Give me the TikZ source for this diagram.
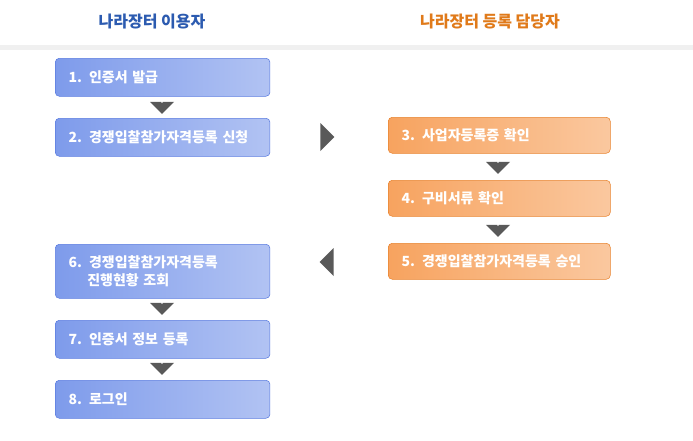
\documentclass[tikz,border=0pt]{standalone}
\usepackage{fontspec}
\setmainfont{Noto Sans CJK KR}
\usetikzlibrary{shapes.arrows}
\definecolor{userblue}{HTML}{7E9BEB}
\definecolor{userline}{HTML}{5A7BE0}
\definecolor{staforange}{HTML}{F7A35F}
\definecolor{stafline}{HTML}{E8832E}
\definecolor{usertitle}{HTML}{2C5BB0}
\definecolor{staftitle}{HTML}{E07A1A}
\tikzstyle{ublock} = [rectangle, draw=userline, left color=userblue, right color=userblue!60, 
    rounded corners=3pt, text width=141pt, minimum height=38*0.75pt, text=white,
    font=\bfseries\fontsize{10.5}{13}\selectfont, align=left, anchor=north west,
    inner xsep=10pt, inner ysep=0pt]
\tikzstyle{oblock} = [ublock, draw=stafline, left color=staforange, right color=staforange!60,
    text width=146.5pt, minimum height=36*0.75pt]
\tikzstyle{flow} = [single arrow, draw=none, fill=black!65, minimum width=24*0.75pt,
    single arrow head extend=5*0.75pt, minimum height=11*0.75pt, inner sep=0pt]
\begin{document}
\begin{tikzpicture}[x=0.75pt, y=-0.75pt]
		\useasboundingbox (0,0) rectangle (693,440);
		\fill[black!6] (0,44) rectangle (693,50);
		\fill[white] (0,0) rectangle (693,45);
		\node[text=usertitle, font=\bfseries\fontsize{12}{14}\selectfont] (user) at (152,22) {나라장터 이용자};
		\node[text=staftitle, font=\bfseries\fontsize{12}{14}\selectfont] (staff) at (490,22) {나라장터 등록 담당자};
		
		\node [ublock] (cert) at (55,58) {1. 인증서 발급};
		\node [ublock] (apply) at (55,118) {2. 경쟁입찰참가자격등록 신청};
		\node [oblock] (biz) at (388,117) {3. 사업자등록증 확인};
		\node [oblock] (docs) at (388,180) {4. 구비서류 확인};
		\node [oblock] (approve) at (388,243) {5. 경쟁입찰참가자격등록 승인};
		\node [ublock, minimum height=54*0.75pt] (status) at (55,244) {6. 경쟁입찰참가자격등록\\\hspace{14pt}진행현황 조회};
		\node [ublock] (info) at (55,320) {7. 인증서 정보 등록};
		\node [ublock] (login) at (55,380) {8. 로그인};
		
		\node [flow, rotate=-90] (a1) at (162,108) {};
		\node [flow, rotate=-90] (a2) at (162,309) {};
		\node [flow, rotate=-90] (a3) at (162,369) {};
		\node [flow, rotate=-90] (a4) at (498,168) {};
		\node [flow, rotate=-90] (a5) at (498,231) {};
		\node [flow, minimum width=28*0.75pt, minimum height=14*0.75pt] (a6) at (327,137) {};
		\node [flow, minimum width=28*0.75pt, minimum height=14*0.75pt, rotate=180] (a7) at (327,262) {};
	\end{tikzpicture}
\end{document}
